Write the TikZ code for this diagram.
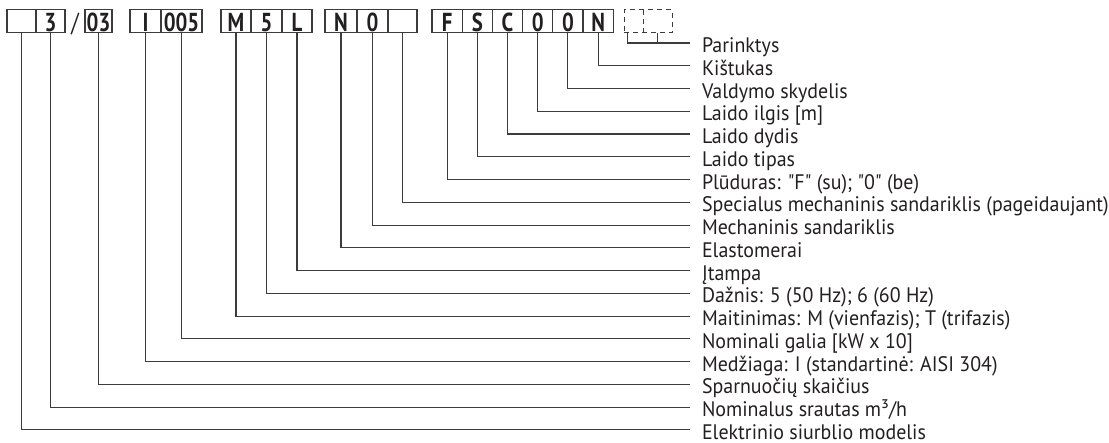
\documentclass[tikz,border=0pt]{standalone}
\usepackage{fontspec}
\usepackage{tikz}
\usetikzlibrary{positioning,calc}
\newfontfamily\labfont{PT Sans}[FakeStretch=0.95]
\newfontfamily\celfont{PT Sans}[FakeStretch=0.8]
\definecolor{inkc}{RGB}{35,31,32}
\definecolor{wirec}{RGB}{60,60,60}
\tikzset{
  cell/.style={rectangle,draw=wirec,line width=1.1pt,outer sep=0pt,inner sep=0pt,
               minimum height=23pt,text height=21pt,text depth=0pt,text=inkc,
               font=\celfont\bfseries\fontsize{26}{26}\selectfont},
  optbox/.style={cell,dash pattern=on 5pt off 4pt,minimum width=48pt},
  slashc/.style={inner sep=0pt,outer sep=0pt,minimum height=23pt,text height=21pt,
                 text depth=0pt,text=inkc,font=\celfont\fontsize{26}{26}\selectfont},
  lab/.style={anchor=west,inner xsep=12pt,inner ysep=0pt,outer sep=0pt,
              text height=19pt,text depth=0pt,text=inkc,
              font=\labfont\fontsize{21}{22}\selectfont},
  wire/.style={draw=wirec,line width=1.1pt},
  optline/.style={wire,dash pattern=on 5pt off 4pt},
}
\begin{document}
\begin{tikzpicture}[x=1pt,y=-1pt]
  \useasboundingbox (0,0) rectangle (1109,442);

  \node[cell,minimum width=29pt] (c1) at (21.5,21.2) {};
  \node[cell,minimum width=29pt,right=0pt of c1] (c2) {3};
  \node[cell,minimum width=27pt,right=20pt of c2] (c3) {03};
  \node[slashc] (sl) at ($(c2.east)!0.5!(c3.west)$) {/};
  \node[cell,minimum width=31pt,right=18pt of c3] (c4) {I};
  \node[cell,minimum width=41pt,right=0pt of c4] (c5) {005};
  \node[cell,minimum width=30pt,right=19pt of c5] (c6) {M};
  \node[cell,minimum width=31pt,right=0pt of c6] (c7) {5};
  \node[cell,minimum width=30pt,right=0pt of c7] (c8) {L};
  \node[cell,minimum width=32pt,right=13pt of c8] (c9) {N};
  \node[cell,minimum width=31pt,right=0pt of c9] (c10) {0};
  \node[cell,minimum width=29pt,right=0pt of c10] (c11) {};
  \node[cell,minimum width=30.2pt,right=15pt of c11] (c12) {F};
  \node[cell,minimum width=30.2pt,right=0pt of c12] (c13) {S};
  \node[cell,minimum width=30.2pt,right=0pt of c13] (c14) {C};
  \node[cell,minimum width=30.2pt,right=0pt of c14] (c15) {0};
  \node[cell,minimum width=30.2pt,right=0pt of c15] (c16) {0};
  \node[cell,minimum width=30.2pt,right=0pt of c16] (c17) {N};
  \node[optbox,right=11pt of c17] (opt) {};
  \draw[optline] ($(opt.north west)+(19,0)$) -- ($(opt.south west)+(19,0)$);

  \node[lab] (l0)  at (690,43)    {Parinktys};
  \node[lab] (l1)  at (690,65.8)  {Kištukas};
  \node[lab] (l2)  at (690,88.5)  {Valdymo skydelis};
  \node[lab] (l3)  at (690,111.3) {Laido ilgis [m]};
  \node[lab] (l4)  at (690,134)   {Laido dydis};
  \node[lab] (l5)  at (690,156.8) {Laido tipas};
  \node[lab] (l6)  at (690,179.6) {Plūduras: "F" (su); "0" (be)};
  \node[lab] (l7)  at (690,202.3) {Specialus mechaninis sandariklis (pageidaujant)};
  \node[lab] (l8)  at (690,225.1) {Mechaninis sandariklis};
  \node[lab] (l9)  at (690,247.8) {Elastomerai};
  \node[lab] (l10) at (690,270.6) {Įtampa};
  \node[lab] (l11) at (690,293.4) {Dažnis: 5 (50 Hz); 6 (60 Hz)};
  \node[lab] (l12) at (690,316.1) {Maitinimas: M (vienfazis); T (trifazis)};
  \node[lab] (l13) at (690,338.9) {Nominali galia [kW x 10]};
  \node[lab] (l14) at (690,361.6) {Medžiaga: I (standartinė: AISI 304)};
  \node[lab] (l15) at (690,384.4) {Sparnuočių skaičius};
  \node[lab] (l16) at (690,407.2) {Nominalus srautas m³/h};
  \node[lab] (l17) at (690,429.9) {Elektrinio siurblio modelis};

  \draw[wire] ($(opt.south west)+(3,0)$) |- (l0.west);
  \draw[wire] ($(opt.south west)+(33,0)$) |- (l0.west);
  \draw[wire] (c17.south) |- (l1.west);
  \draw[wire] (c16.south) |- (l2.west);
  \draw[wire] (c15.south) |- (l3.west);
  \draw[wire] (c14.south) |- (l4.west);
  \draw[wire] (c13.south) |- (l5.west);
  \draw[wire] (c12.south) |- (l6.west);
  \draw[wire] (c11.south) |- (l7.west);
  \draw[wire] (c10.south) |- (l8.west);
  \draw[wire] (c9.south)  |- (l9.west);
  \draw[wire] (c8.south)  |- (l10.west);
  \draw[wire] (c7.south)  |- (l11.west);
  \draw[wire] (c6.south)  |- (l12.west);
  \draw[wire] (c5.south)  |- (l13.west);
  \draw[wire] (c4.south)  |- (l14.west);
  \draw[wire] (c3.south)  |- (l15.west);
  \draw[wire] (c2.south)  |- (l16.west);
  \draw[wire] (c1.south)  |- (l17.west);
\end{tikzpicture}
\end{document}
